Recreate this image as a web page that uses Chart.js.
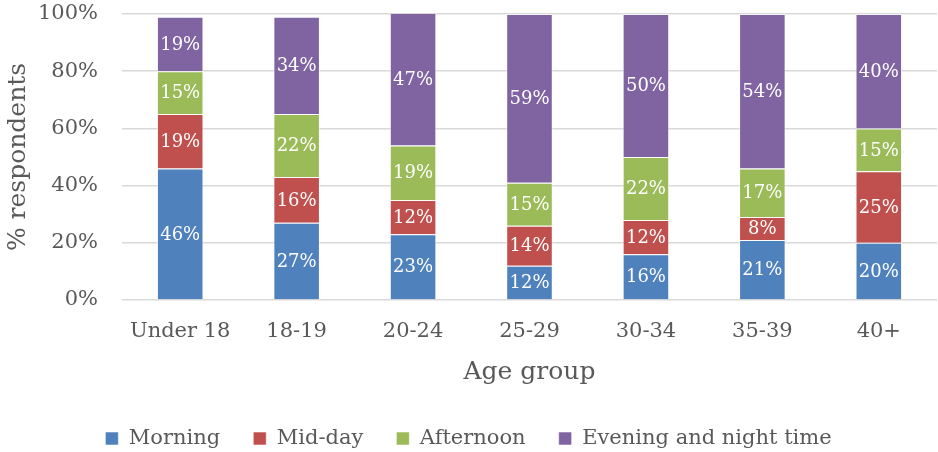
<!DOCTYPE html>
<html>
<head>
<meta charset="utf-8">
<script src="https://cdn.jsdelivr.net/npm/chart.js@4/dist/chart.umd.min.js"></script>
<style>
  html, body { margin: 0; padding: 0; background: #fff; }
  #wrap { width: 938px; height: 452px; position: relative; }
</style>
</head>
<body>
<div id="wrap"><canvas id="c"></canvas></div>
<script>
// Share of respondents by time of day, per age group (percent)
const ageGroups = ['Under 18', '18-19', '20-24', '25-29', '30-34', '35-39', '40+'];
const morning   = [46, 27, 23, 12, 16, 21, 20];
const midDay    = [19, 16, 12, 14, 12, 8, 25];
const afternoon = [15, 22, 19, 15, 22, 17, 15];
const evening   = [19, 34, 47, 59, 50, 54, 40];
const yTicks    = [0, 20, 40, 60, 80, 100];

const FONT = '"DejaVu Serif", "Liberation Serif", serif';
const GREY = '#595959';

// Draws each segment's value in white at the centre of the bar piece
const segmentLabels = {
  id: 'segmentLabels',
  afterDatasetsDraw(chart) {
    const ctx = chart.ctx;
    ctx.save();
    ctx.fillStyle = '#ffffff';
    ctx.font = '18px ' + FONT;
    ctx.textAlign = 'center';
    ctx.textBaseline = 'middle';
    chart.data.datasets.forEach((ds, i) => {
      const meta = chart.getDatasetMeta(i);
      meta.data.forEach((bar, j) => {
        const top = Math.max(bar.y, chart.chartArea.top);
        const y = (top + bar.base) / 2;
        ctx.fillText(ds.data[j] + '%', bar.x, y + 1);
      });
    });
    ctx.restore();
  }
};

const mk = (label, data, color) => ({
  label, data,
  backgroundColor: color,
  borderColor: 'rgba(255,255,255,0.55)',
  borderWidth: 1,
  categoryPercentage: 1.0,
  barPercentage: 0.4
});

new Chart(document.getElementById('c'), {
  type: 'bar',
  data: {
    labels: ageGroups,
    datasets: [
      mk('Morning', morning, '#4F81BD'),
      mk('Mid-day', midDay, '#C0504D'),
      mk('Afternoon', afternoon, '#9BBB59'),
      mk('Evening and night time', evening, '#8064A2')
    ]
  },
  options: {
    responsive: true,
    maintainAspectRatio: false,
    animation: false,
    layout: { padding: { top: 14, right: 1, left: 0, bottom: -7 } },
    plugins: {
      legend: {
        position: 'bottom',
        labels: {
          color: GREY,
          font: { family: FONT, size: 21 },
          boxWidth: 13,
          boxHeight: 13,
          padding: 33
        }
      },
      tooltip: { enabled: false }
    },
    scales: {
      x: {
        stacked: true,
        afterFit(axis) { axis.height = 95; },
        grid: { display: false },
        border: { display: false },
        ticks: { color: GREY, font: { family: FONT, size: 21 }, padding: 11 },
        title: { display: true, text: 'Age group', color: GREY, font: { family: FONT, size: 25 }, padding: { top: 1, bottom: 8 } }
      },
      y: {
        stacked: true,
        min: 0,
        max: 100,
        afterBuildTicks(axis) { axis.ticks = yTicks.map(v => ({ value: v })); },
        afterFit(axis) { axis.width = 122; axis.paddingTop = 0; axis.paddingBottom = 0; },
        grid: { color: '#d9d9d9', lineWidth: 1.5, drawTicks: false },
        border: { display: false },
        ticks: { color: GREY, font: { family: FONT, size: 21 }, padding: 24, callback: v => v + '%' },
        title: { display: true, text: '% respondents', color: GREY, font: { family: FONT, size: 25 }, padding: { top: 3, bottom: 2 } }
      }
    }
  },
  plugins: [segmentLabels]
});
</script>
</body>
</html>
